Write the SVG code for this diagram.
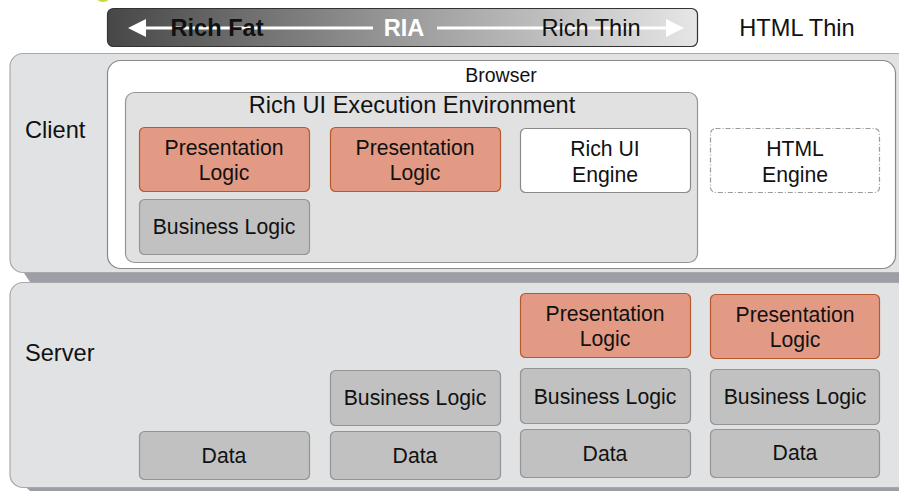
<svg xmlns="http://www.w3.org/2000/svg" width="899" height="491" viewBox="0 0 899 491">
<defs>
<linearGradient id="bar" x1="0" y1="0" x2="1" y2="0">
<stop offset="0" stop-color="#474747"/>
<stop offset="0.5" stop-color="#9a9a9a"/>
<stop offset="1" stop-color="#e6e6e6"/>
</linearGradient>
<style>
text{font-family:"Liberation Sans",Arial,sans-serif;fill:#111;}
.t22{font-size:23.6px;}
.t20{font-size:21.2px;}
.t18{font-size:19.5px;}
.panel{fill:#e1e2e3;stroke:#a9a9ab;stroke-width:1.2;}
.shadow{fill:#9e9ea6;}
.pres{fill:#e39a84;stroke:#b8582f;stroke-width:1.2;}
.biz{fill:#c1c1c1;stroke:#949494;stroke-width:1.2;}
.eng{fill:#fff;stroke:#8a8a8a;stroke-width:1.2;}
.html{fill:#fff;stroke:#9a9a9a;stroke-width:1.2;stroke-dasharray:5 2 1 2;}
.arr{stroke:#fff;stroke-width:3;fill:none;}
</style>
</defs>
<ellipse cx="103" cy="-5" rx="8" ry="7" fill="#c9d640"/>
<g id="spectrum">
<rect x="107.5" y="8.5" width="590" height="38" rx="6" fill="url(#bar)" stroke="#333" stroke-width="1.2"/>
<line class="arr" x1="140" y1="28" x2="373" y2="28"/>
<line class="arr" x1="437" y1="28" x2="670" y2="28"/>
<polygon points="128,28 146,19 146,37" fill="#fff"/>
<polygon points="684,28 666,19 666,37" fill="#fff"/>
<text x="217" y="36" class="t22" text-anchor="middle" font-weight="bold">Rich Fat</text>
<text x="404" y="36" class="t22" text-anchor="middle" font-weight="bold" style="fill:#fff">RIA</text>
<text x="591" y="36" class="t22" text-anchor="middle">Rich Thin</text>
</g>
<text x="797" y="36" class="t22" text-anchor="middle">HTML Thin</text>
<g id="client">
<path class="shadow" d="M18,264 L910,264 L910,282 L30,282 Z"/>
<rect class="panel" x="10" y="53.5" width="900" height="219" rx="13"/>
<text x="25" y="138" class="t22">Client</text>
</g>
<g id="browser">
<rect x="107.5" y="60.5" width="788" height="208" rx="13" fill="#fff" stroke="#8a8a8a" stroke-width="1.2"/>
<text x="501" y="82" class="t18" text-anchor="middle">Browser</text>
</g>
<g id="richui-env">
<rect x="125.5" y="92.5" width="572" height="170" rx="9" fill="#e1e1e1" stroke="#959595" stroke-width="1.2"/>
<text x="412" y="113" class="t22" text-anchor="middle">Rich UI Execution Environment</text>
</g>
<g id="client-pres1">
<rect class="pres" x="139.5" y="127.5" width="170" height="64" rx="5"/>
<text x="224" y="155" class="t20" text-anchor="middle">Presentation</text>
<text x="224" y="180" class="t20" text-anchor="middle">Logic</text>
</g>
<g id="client-pres2">
<rect class="pres" x="330.5" y="127.5" width="170" height="64" rx="5"/>
<text x="415" y="155" class="t20" text-anchor="middle">Presentation</text>
<text x="415" y="180" class="t20" text-anchor="middle">Logic</text>
</g>
<g id="richui-engine">
<rect class="eng" x="520.5" y="128.5" width="170" height="64" rx="5"/>
<text x="605" y="156" class="t20" text-anchor="middle">Rich UI</text>
<text x="605" y="182" class="t20" text-anchor="middle">Engine</text>
</g>
<g id="html-engine">
<rect class="html" x="710.5" y="128.5" width="169" height="64" rx="5"/>
<text x="795" y="156" class="t20" text-anchor="middle">HTML</text>
<text x="795" y="182" class="t20" text-anchor="middle">Engine</text>
</g>
<g id="client-biz">
<rect class="biz" x="139.5" y="199.5" width="170" height="55" rx="5"/>
<text x="224" y="234" class="t20" text-anchor="middle">Business Logic</text>
</g>
<g id="server">
<path class="shadow" d="M18,480 L910,480 L910,491 L30,491 Z"/>
<rect class="panel" x="10" y="282.5" width="900" height="205" rx="13"/>
<text x="25" y="361" class="t22">Server</text>
</g>
<g id="server-pres3">
<rect class="pres" x="520.5" y="293.5" width="170" height="64" rx="5"/>
<text x="605" y="321" class="t20" text-anchor="middle">Presentation</text>
<text x="605" y="346" class="t20" text-anchor="middle">Logic</text>
</g>
<g id="server-pres4">
<rect class="pres" x="710.5" y="294.5" width="169" height="64" rx="5"/>
<text x="795" y="322" class="t20" text-anchor="middle">Presentation</text>
<text x="795" y="347" class="t20" text-anchor="middle">Logic</text>
</g>
<g id="server-biz2">
<rect class="biz" x="330.5" y="370.5" width="170" height="55" rx="5"/>
<text x="415" y="405" class="t20" text-anchor="middle">Business Logic</text>
</g>
<g id="server-biz3">
<rect class="biz" x="520.5" y="368.5" width="170" height="55" rx="5"/>
<text x="605" y="404" class="t20" text-anchor="middle">Business Logic</text>
</g>
<g id="server-biz4">
<rect class="biz" x="710.5" y="369.5" width="169" height="55" rx="5"/>
<text x="795" y="404" class="t20" text-anchor="middle">Business Logic</text>
</g>
<g id="data1">
<rect class="biz" x="139.5" y="431.5" width="170" height="48" rx="5"/>
<text x="224" y="463" class="t20" text-anchor="middle">Data</text>
</g>
<g id="data2">
<rect class="biz" x="330.5" y="431.5" width="170" height="48" rx="5"/>
<text x="415" y="463" class="t20" text-anchor="middle">Data</text>
</g>
<g id="data3">
<rect class="biz" x="520.5" y="429.5" width="170" height="48" rx="5"/>
<text x="605" y="461" class="t20" text-anchor="middle">Data</text>
</g>
<g id="data4">
<rect class="biz" x="710.5" y="429.5" width="169" height="48" rx="5"/>
<text x="795" y="460" class="t20" text-anchor="middle">Data</text>
</g>
<g id="connectors"></g>
</svg>
